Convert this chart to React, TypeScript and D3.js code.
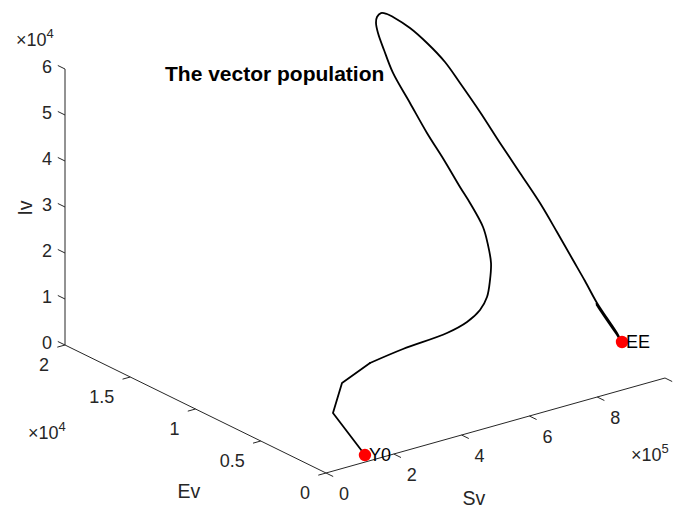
import React from 'react';
import * as d3 from 'd3';

// Trajectory of the vector compartments (susceptible, exposed, infectious)
const sv = [
  126500, 116800, 201200, 322300, 427300, 564800, 635400, 689100, 729000, 764800,
  798600, 824300, 848100, 859800, 864900, 867800, 867600, 863700, 852100, 844800,
  838600, 836600, 839500, 849300, 861300, 871400, 894500, 906200, 913000, 907300,
  904700, 902100, 899500, 900700, 900800, 901800, 902600, 907200, 917400, 931500,
  934600, 934000, 937000, 938000, 938600,
];
const ev = [
  300, 2500, 4000, 5000, 5200, 5400, 5700, 6100, 6600, 7300,
  8100, 9000, 10000, 11300, 12200, 13500, 14800, 16000, 17000, 17500,
  17800, 17900, 17900, 17850, 17700, 17500, 16800, 15800, 14600, 13300,
  11700, 10100, 8500, 7000, 5700, 4500, 3600, 2800, 2300, 1900,
  1750, 3570, 1885, 2910, 1700,
];
const iv = [
  880, 7150, 9850, 10300, 10900, 11260, 11780, 12720, 14020, 16000,
  17890, 20020, 22050, 25220, 27340, 31340, 35400, 40340, 45710, 50160,
  53570, 55650, 56890, 57620, 57370, 56790, 54890, 52780, 50180, 47540,
  43520, 39060, 34820, 30350, 25860, 21420, 18090, 14330, 11550, 8550,
  7390, 12480, 7370, 10270, 6730,
];

const markerNames = ['Y0', 'EE'];
const markerIndex = [0, sv.length - 1];

const svTicks = [0, 2e5, 4e5, 6e5, 8e5];
const svTickLabels = ['0', '2', '4', '6', '8'];
const evTicks = [0, 5e3, 1e4, 1.5e4, 2e4];
const evTickLabels = ['0', '0.5', '1', '1.5', '2'];
const ivTicks = [0, 1e4, 2e4, 3e4, 4e4, 5e4, 6e4];
const ivTickLabels = ['0', '1', '2', '3', '4', '5', '6'];

const titleText = 'The vector population';

const W = 677;
const H = 511;
const FONT = '"Liberation Sans", Arial, Helvetica, sans-serif';
const AXIS = '#262626';

// oblique 3-D projection: each axis maps to a screen vector
const O = [326, 473];
const svDir = [339, -95];
const evDir = [-261, -128];
const ivDir = [0, -276];

const fS = d3.scaleLinear().domain([0, 1e6]).range([0, 1]);
const fE = d3.scaleLinear().domain([0, 2e4]).range([0, 1]);
const fI = d3.scaleLinear().domain([0, 6e4]).range([0, 1]);

function project(s: number, e: number, i: number): [number, number] {
  const a = fS(s), b = fE(e), c = fI(i);
  return [
    O[0] + a * svDir[0] + b * evDir[0] + c * ivDir[0],
    O[1] + a * svDir[1] + b * evDir[1] + c * ivDir[1],
  ];
}

function unit(v: number[], len: number): [number, number] {
  const n = Math.hypot(v[0], v[1]);
  return [(v[0] / n) * len, (v[1] / n) * len];
}

// the first few solver steps are coarse; the rest is drawn smoothly
const COARSE = 4;

export default function App() {
  const pts = sv.map((s, k) => project(s, ev[k], iv[k]));
  const straight = d3.line<[number, number]>().x((d) => d[0]).y((d) => d[1]).curve(d3.curveLinear);
  const smooth = d3
    .line<[number, number]>()
    .x((d) => d[0])
    .y((d) => d[1])
    .curve(d3.curveCatmullRom.alpha(0.5));

  const svMax = fS.domain()[1];
  const evMax = fE.domain()[1];
  const ivMax = fI.domain()[1];

  // axis lines
  const sv0 = project(0, 0, 0), sv1 = project(svMax, 0, 0);
  const ev0 = project(0, 0, 0), ev1 = project(0, evMax, 0);
  const iv0 = project(0, evMax, 0), iv1 = project(0, evMax, ivMax);

  const tS = unit([-evDir[0], -evDir[1]], 8); // Sv ticks point away from Ev
  const tE = unit([-svDir[0], -svDir[1]], 8); // Ev ticks point away from Sv
  const tI = unit(evDir, 8); // Iv ticks point outward along Ev

  const tickStyle = { fontFamily: FONT, fontSize: 18, fill: AXIS };

  return (
    <svg width={W} height={H} style={{ position: 'absolute', left: 0, top: 0, background: '#fff' }}>
      <rect width={W} height={H} fill="#fff" />

      {/* axes */}
      <g stroke={AXIS} strokeWidth={1} fill="none">
        <line x1={sv0[0]} y1={sv0[1]} x2={sv1[0]} y2={sv1[1]} />
        <line x1={ev0[0]} y1={ev0[1]} x2={ev1[0]} y2={ev1[1]} />
        <line x1={iv0[0]} y1={iv0[1]} x2={iv1[0]} y2={iv1[1]} />
        {svTicks.concat([svMax]).map((t, k) => {
          const p = project(t, 0, 0);
          return <line key={'st' + k} x1={p[0]} y1={p[1]} x2={p[0] + tS[0]} y2={p[1] + tS[1]} />;
        })}
        {evTicks.map((t, k) => {
          const p = project(0, t, 0);
          return <line key={'et' + k} x1={p[0]} y1={p[1]} x2={p[0] + tE[0]} y2={p[1] + tE[1]} />;
        })}
        {ivTicks.map((t, k) => {
          const p = project(0, evMax, t);
          return <line key={'it' + k} x1={p[0]} y1={p[1]} x2={p[0] + tI[0]} y2={p[1] + tI[1]} />;
        })}
      </g>

      {/* tick labels */}
      <g style={tickStyle}>
        {svTicks.map((t, k) => {
          const p = project(t, 0, 0);
          return (
            <text key={'sl' + k} x={p[0] + 18} y={p[1] + 21} textAnchor="middle" dominantBaseline="central">
              {svTickLabels[k]}
            </text>
          );
        })}
        {evTicks.map((t, k) => {
          const p = project(0, t, 0);
          return (
            <text key={'el' + k} x={p[0] - 16} y={p[1] + 20} textAnchor="end" dominantBaseline="central">
              {evTickLabels[k]}
            </text>
          );
        })}
        {ivTicks.map((t, k) => {
          const p = project(0, evMax, t);
          return (
            <text key={'il' + k} x={p[0] - 13} y={p[1] - 2} textAnchor="end" dominantBaseline="central">
              {ivTickLabels[k]}
            </text>
          );
        })}
        {/* exponent multipliers */}
        <text x={16} y={46}>
          ×10<tspan dy={-8} fontSize={13}>4</tspan>
        </text>
        <text x={28} y={439}>
          ×10<tspan dy={-8} fontSize={13}>4</tspan>
        </text>
        <text x={631} y={461}>
          ×10<tspan dy={-8} fontSize={13}>5</tspan>
        </text>
      </g>

      {/* axis titles */}
      <g style={{ fontFamily: FONT, fontSize: 19.5, fill: AXIS }}>
        <text x={474} y={505} textAnchor="middle">Sv</text>
        <text x={189} y={498} textAnchor="middle">Ev</text>
        <text transform="translate(32,208) rotate(-90)" textAnchor="middle">Iv</text>
      </g>

      {/* trajectory */}
      <g fill="none" stroke="#000" strokeWidth={1.8} strokeLinejoin="round" strokeLinecap="round">
        <path d={straight(pts.slice(0, COARSE)) || ''} />
        <path d={smooth(pts.slice(COARSE - 1)) || ''} />
      </g>

      {/* start and equilibrium points */}
      {markerIndex.map((idx, k) => {
        const p = pts[idx];
        return (
          <g key={'m' + k}>
            <circle cx={p[0]} cy={p[1]} r={6.2} fill="#ff0000" />
            <text
              x={p[0] + 4}
              y={p[1]}
              dominantBaseline="central"
              style={{ fontFamily: FONT, fontSize: 18, fill: '#000' }}
            >
              {markerNames[k]}
            </text>
          </g>
        );
      })}

      <text x={165} y={81} style={{ fontFamily: FONT, fontSize: 21, fontWeight: 'bold', fill: '#000' }}>
        {titleText}
      </text>
    </svg>
  );
}
